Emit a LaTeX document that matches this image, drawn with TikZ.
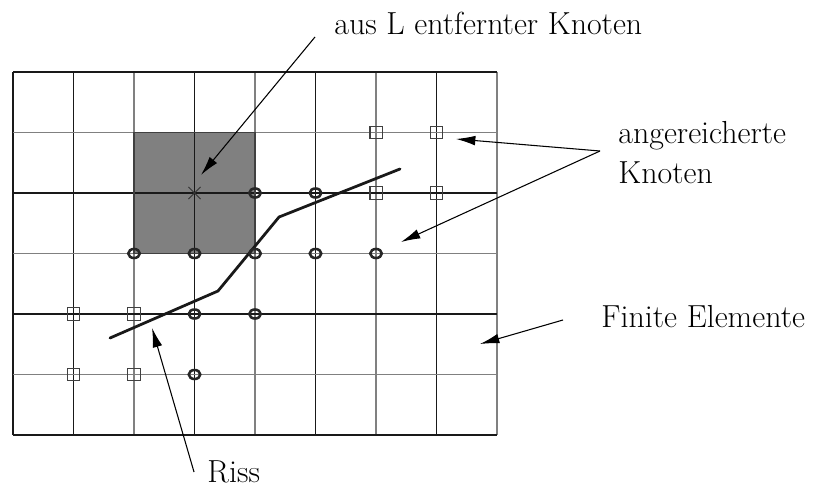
\documentclass[tikz,border=0pt]{standalone}
\usetikzlibrary{arrows.meta}
\begin{document}
\begin{tikzpicture}[
  gridblack/.style={black!90, line width=0.5pt},
  gridgray/.style={black!50, line width=0.7pt},
  crack/.style={black!90, line width=1.3pt, line cap=round},
  enrsq/.style={draw=black!75, line width=0.5pt, minimum size=0.2cm, inner sep=0pt, fill=none},
  enrci/.style={draw=black!85, line width=1.2pt},
  lbl/.style={font=\fontsize{15}{18.5}\selectfont, inner sep=0pt},
  pointer/.style={line width=0.5pt, -{Latex[length=3.2mm,width=1.6mm]}}
]
\useasboundingbox (-0.215,-0.86) rectangle (13.355,7.19);
% removed element
\fill[black!50] (2,3) rectangle (4,5);
% grid
\foreach \x in {0,1,3,5,7} \draw[gridblack] (\x,0) -- (\x,6);
\foreach \x in {2,4,6,8} \draw[gridgray] (\x,0) -- (\x,6);
\foreach \y in {0,2,4,6} \draw[gridblack] (0,\y) -- (8,\y);
\foreach \y in {1,3,5} \draw[gridgray] (0,\y) -- (8,\y);
\draw[black!75, line width=0.8pt] (2,3) rectangle (4,5);
% removed node cross
\draw[black!80, line width=0.4pt] (2.9,3.9) -- (3.1,4.1) (2.9,4.1) -- (3.1,3.9);
\coordinate (xnode) at (3,4);
% crack
\coordinate (c1) at (1.603,1.603);
\coordinate (c2) at (3.388,2.380);
\coordinate (c3) at (4.397,3.603);
\coordinate (c4) at (6.397,4.397);
\draw[crack] (c1) -- (c2) -- (c3) -- (c4);
% enriched nodes: squares
\foreach \p [count=\i] in {(6,5),(7,5),(6,4),(7,4),(1,2),(2,2),(1,1),(2,1)}
  \node[enrsq] (sq\i) at \p {};
% enriched nodes: circles
\foreach \p in {(4,4),(5,4),(2,3),(3,3),(4,3),(5,3),(6,3),(3,2),(4,2),(3,1)}
  \draw[enrci] \p ellipse [x radius=0.095cm, y radius=0.075cm];
% labels
\node[lbl, anchor=base west] (lremoved) at (5.306,6.612) {aus L entfernter Knoten};
\node[lbl, anchor=west, align=left] (lenr) at (10.0,4.669) {angereicherte\\Knoten};
\node[lbl, anchor=base west] (lfe) at (9.719,1.769) {Finite Elemente};
\node[lbl, anchor=base west] (lriss) at (3.207,-0.793) {Riss};
% arrow coordinates
\coordinate (aremS) at (4.992,6.579);
\coordinate (aremT) at (3.107,4.298);
\coordinate (aenrS) at (9.702,4.694);
\coordinate (aenrT1) at (7.322,4.893);
\coordinate (aenrT2) at (6.413,3.190);
\coordinate (afeS) at (9.091,1.901);
\coordinate (afeT) at (7.719,1.504);
\coordinate (arisS) at (2.992,-0.612);
\coordinate (arisT) at (2.298,1.769);
\draw[pointer] (aremS) -- (aremT);
\draw[pointer] (aenrS) -- (aenrT1);
\draw[pointer] (aenrS) -- (aenrT2);
\draw[pointer] (afeS) -- (afeT);
\draw[pointer] (arisS) -- (arisT);
\end{tikzpicture}
\end{document}
